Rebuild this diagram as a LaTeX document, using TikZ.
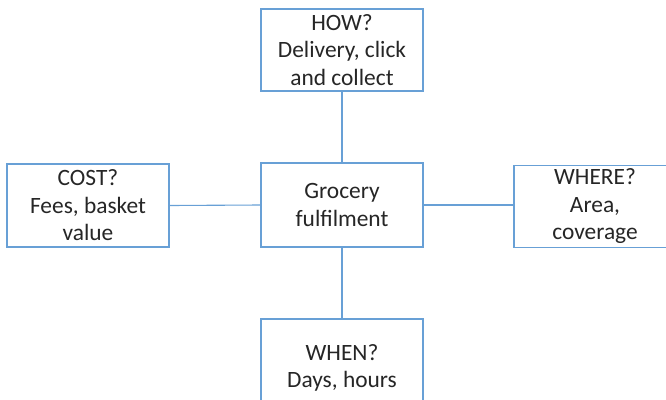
\documentclass[tikz,border=0pt]{standalone}
\usepackage{fontspec}
\setmainfont{Carlito}
\definecolor{boxblue}{RGB}{104,160,214}
\definecolor{inktext}{RGB}{38,38,38}
\begin{document}
\begin{tikzpicture}[x=1pt,y=-1pt,
  topic/.style={draw=boxblue, line width=1.3pt, fill=white, align=center,
    text=inktext, inner sep=0pt, minimum width=162pt,
    font=\fontsize{23.4}{27.5}\selectfont},
  link/.style={draw=boxblue, line width=1.1pt}]
\useasboundingbox (0,0) rectangle (666,399);
\fill[white] (0,0) rectangle (666,399);
\clip (0,0) rectangle (666,399);
% central topic
\node[topic, minimum height=84pt] (hub) at (342,205) {Grocery\\fulfilment};
% surrounding questions
\node[topic, minimum height=82pt] (how) at (342,50) {HOW?\\Delivery, click\\and collect};
\node[topic, minimum height=83pt] (cost) at (88,205.5) {COST?\\Fees, basket\\value};
\node[topic, minimum height=82pt] (where) at (595,206.5) {WHERE?\\Area,\\coverage};
\node[topic, minimum height=98pt] (when) at (342,368) {WHEN?\\Days, hours};
% connectors
\draw[link] (how.south) -- (hub.north);
\draw[link] (cost.east) -- (hub.west);
\draw[link] (hub.east) -- (hub.east -| where.west);
\draw[link] (hub.south) -- (when.north);
\end{tikzpicture}
\end{document}
